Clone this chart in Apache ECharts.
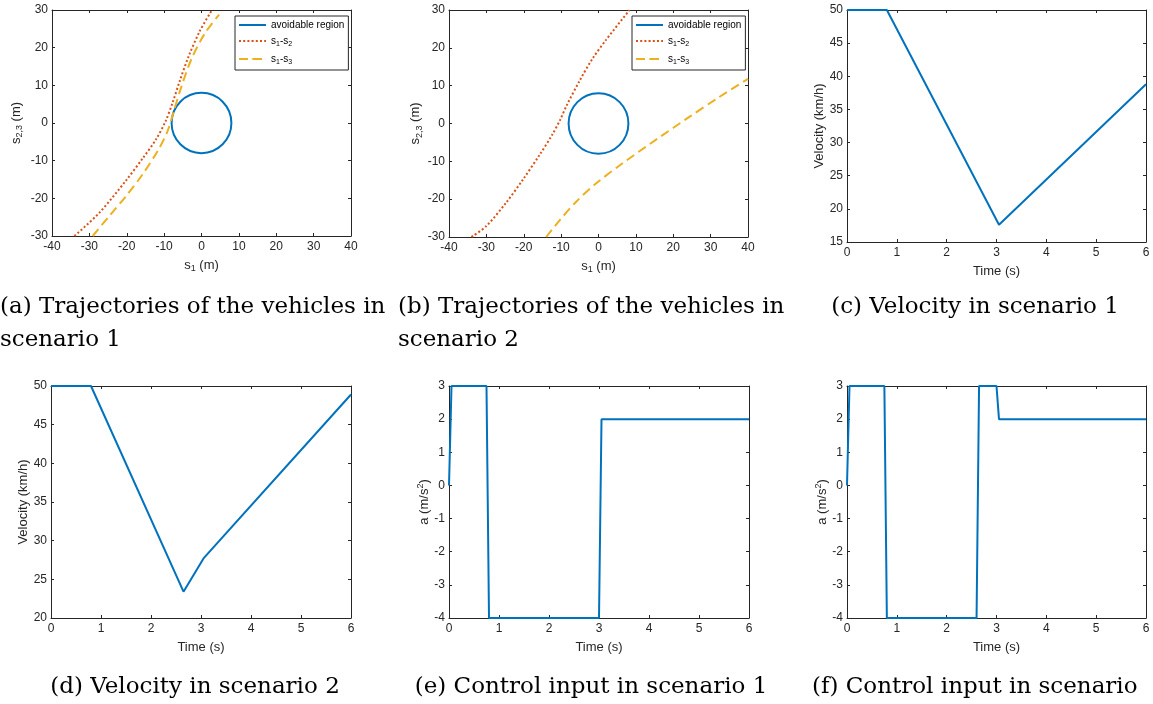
<!DOCTYPE html>
<html>
<head>
<meta charset="utf-8">
<script src="https://cdn.jsdelivr.net/npm/echarts@6/dist/echarts.min.js"></script>
<style>
html,body{margin:0;padding:0;background:#fff;}
#main{width:1153px;height:704px;}
</style>
</head>
<body>
<div id="main"></div>
<script>
// ---------------- DATA ----------------
const trajTicksX = [-40, 40, 10];
const trajTicksY = [-30, 30, 10];
const timeTicks = [0, 6, 1];
const vel1Ticks = [15, 50, 5];
const vel2Ticks = [20, 50, 5];
const accTicks = [-4, 3, 1];

// avoidable region: circle centre (x, y) and radius
const regionCircle = [[0, 0, 8]];

// scenario 1 trajectories [s1, s2/s3]
const sc1_s12 = [[-34,-30],[-27.3,-23.8],[-20.3,-15.4],[-15.6,-9.2],[-12.2,-4.4],[-9.6,0.5],[-7.7,5.5],[-5.8,11.2],[-3.4,17.8],[-0.5,24.3],[2.8,30]];
const sc1_s13 = [[-29.1,-30],[-24.6,-24.6],[-20.1,-19.3],[-15.6,-13.4],[-11.6,-7.2],[-9.1,-2.2],[-7.4,3.2],[-5.4,9.6],[-2.6,17.2],[0.9,23.8],[4.7,28.8]];

// scenario 2 trajectories
const sc2_s12 = [[-34,-30],[-30,-27.1],[-24.7,-20.9],[-20.2,-14.8],[-15.7,-8.2],[-12.4,-3.0],[-10.3,0.9],[-8.5,4.8],[-5.0,11.4],[-1.5,17.3],[2.1,22.2],[8.3,30]];
const sc2_s13 = [[-14,-30],[-10.4,-25.6],[-5.9,-20.6],[-0.6,-15.8],[6.6,-10.4],[15.5,-4.2],[24.4,1.8],[32,6.8],[40,11.8]];

// velocity [time (s), km/h]
const vel_sc1 = [[0,50],[0.8,50],[3.05,17.6],[6,38.8]];
const vel_sc2 = [[0,50],[0.8,50],[2.65,23.4],[3.05,27.7],[6,48.9]];

// control input [time (s), m/s^2]
const acc_sc1 = [[0,0],[0.05,3],[0.75,3],[0.8,-4],[3.0,-4],[3.05,2],[6,2]];
const acc_sc2 = [[0,0],[0.05,3],[0.75,3],[0.8,-4],[2.6,-4],[2.65,3],[3.0,3],[3.05,2],[6,2]];

const captions = [
  '(a) Trajectories of the vehicles in', 'scenario 1',
  '(b) Trajectories of the vehicles in', 'scenario 2',
  '(c) Velocity in scenario 1',
  '(d) Velocity in scenario 2',
  '(e) Control input in scenario 1',
  '(f) Control input in scenario'
];

// ---------------- STYLE ----------------
const BLUE = '#0072BD', RED = '#D95319', YEL = '#EDB120', AX = '#262626';
const SANS = '"Liberation Sans", Arial, sans-serif';
const SERIF = '"DejaVu Serif", serif';

const nameRich = {
  t: {fontSize: 13, fontFamily: SANS, color: AX, lineHeight: 16},
  sub: {fontSize: 9, fontFamily: SANS, color: AX, lineHeight: 8, verticalAlign: 'bottom'},
  sup: {fontSize: 9, fontFamily: SANS, color: AX, lineHeight: 8, verticalAlign: 'top'}
};

const grids = [
  {left: 52, top: 10, width: 299, height: 226},
  {left: 449, top: 10, width: 299, height: 227},
  {left: 847, top: 10, width: 299, height: 232},
  {left: 51, top: 386, width: 300, height: 232},
  {left: 449, top: 386, width: 300, height: 232},
  {left: 847, top: 386, width: 299, height: 232}
];

const xAxes = [], yAxes = [];
function addAxes(gi, xt, yt, xName, yName, xGap, yGap) {
  const line = {show: true, onZero: false, lineStyle: {color: AX, width: 1}};
  const tick = {show: true, inside: true, length: 3, lineStyle: {color: AX, width: 1}};
  const lab = {color: AX, fontSize: 12, fontFamily: SANS};
  xAxes.push({gridIndex: gi, type: 'value', position: 'bottom', min: xt[0], max: xt[1], interval: xt[2],
    axisLine: line, axisTick: tick, axisLabel: Object.assign({margin: 5}, lab), splitLine: {show: false},
    name: xName, nameLocation: 'middle', nameGap: xGap, nameTextStyle: {rich: nameRich}});
  xAxes.push({gridIndex: gi, type: 'value', position: 'top', min: xt[0], max: xt[1], interval: xt[2],
    axisLine: line, axisTick: tick, axisLabel: {show: false}, splitLine: {show: false}});
  yAxes.push({gridIndex: gi, type: 'value', position: 'left', min: yt[0], max: yt[1], interval: yt[2],
    axisLine: line, axisTick: tick, axisLabel: Object.assign({margin: 4}, lab), splitLine: {show: false},
    name: yName, nameLocation: 'middle', nameGap: yGap, nameTextStyle: {rich: nameRich}});
  yAxes.push({gridIndex: gi, type: 'value', position: 'right', min: yt[0], max: yt[1], interval: yt[2],
    axisLine: line, axisTick: tick, axisLabel: {show: false}, splitLine: {show: false}});
}
const sName = '{t|s}{sub|1}{t| (m)}';
const s23Name = '{t|s}{sub|2,3}{t| (m)}';
const tName = '{t|Time (s)}';
const vName = '{t|Velocity (km/h)}';
const aName = '{t|a (m/s}{sup|2}{t|)}';
addAxes(0, trajTicksX, trajTicksY, sName, s23Name, 21, 28);
addAxes(1, trajTicksX, trajTicksY, sName, s23Name, 21, 23);
addAxes(2, timeTicks, vel1Ticks, tName, vName, 21, 18);
addAxes(3, timeTicks, vel2Ticks, tName, vName, 21, 18);
addAxes(4, timeTicks, accTicks, tName, aName, 21, 17);
addAxes(5, timeTicks, accTicks, tName, aName, 21, 16);

function circleSeries(gi) {
  return {
    type: 'custom', name: 'avoidable region', xAxisIndex: gi * 2, yAxisIndex: gi * 2,
    coordinateSystem: 'cartesian2d', data: regionCircle, itemStyle: {color: BLUE},
    renderItem: function (params, api) {
      const c = api.coord([api.value(0), api.value(1)]);
      const s = api.size([api.value(2), api.value(2)]);
      return {type: 'ellipse', shape: {cx: c[0], cy: c[1], rx: s[0], ry: s[1]},
        style: {fill: 'none', stroke: BLUE, lineWidth: 2}};
    }
  };
}
function lineSeries(gi, name, data, color, type, smooth) {
  return {type: 'line', name: name, xAxisIndex: gi * 2, yAxisIndex: gi * 2, data: data,
    showSymbol: false, symbol: 'none', smooth: smooth ? 0.3 : false, clip: true,
    lineStyle: {color: color, width: 2, type: type || 'solid'}, itemStyle: {color: color}};
}
const DOT = [2, 2.2], DASH = [9, 5];
const series = [
  circleSeries(0),
  lineSeries(0, 's1-s2', sc1_s12, RED, DOT, true),
  lineSeries(0, 's1-s3', sc1_s13, YEL, DASH, true),
  circleSeries(1),
  lineSeries(1, 's1-s2', sc2_s12, RED, DOT, true),
  lineSeries(1, 's1-s3', sc2_s13, YEL, DASH, true),
  lineSeries(2, 'v1', vel_sc1, BLUE),
  lineSeries(3, 'v2', vel_sc2, BLUE),
  lineSeries(4, 'a1', acc_sc1, BLUE),
  lineSeries(5, 'a2', acc_sc2, BLUE)
];

const legendRich = {
  t: {fontSize: 10, fontFamily: SANS, color: '#000', lineHeight: 14},
  sub: {fontSize: 7, fontFamily: SANS, color: '#000', lineHeight: 7, verticalAlign: 'bottom'}
};
function legendFmt(n) {
  if (n === 's1-s2') return '{t|s}{sub|1}{t|-s}{sub|2}';
  if (n === 's1-s3') return '{t|s}{sub|1}{t|-s}{sub|3}';
  return '{t|' + n + '}';
}
function makeLegend(left) {
  return {
    left: left, top: 16, orient: 'vertical', itemWidth: 27, itemHeight: 2, itemGap: 6,
    padding: [4, 4, 4, 3], borderColor: AX, borderWidth: 1, backgroundColor: '#fff',
    selectedMode: false, formatter: legendFmt, textStyle: {rich: legendRich, fontSize: 10},
    data: [{name: 'avoidable region', icon: 'rect', itemStyle: {color: BLUE}}, 's1-s2', 's1-s3']
  };
}

function cap(text, x, y, align) {
  return {type: 'text', x: x, y: y, silent: true,
    style: {text: text, fontFamily: SERIF, fontSize: 23, fill: '#000', align: align, verticalAlign: 'bottom'}};
}
const CB = 5; // descent offset
const graphic = [
  cap(captions[0], 0, 314 + CB, 'left'), cap(captions[1], 0, 347 + CB, 'left'),
  cap(captions[2], 398, 314 + CB, 'left'), cap(captions[3], 398, 347 + CB, 'left'),
  cap(captions[4], 975, 314 + CB, 'center'),
  cap(captions[5], 195, 694 + CB, 'center'),
  cap(captions[6], 591, 694 + CB, 'center'),
  cap(captions[7], 812, 694 + CB, 'left')
];

const chart = echarts.init(document.getElementById('main'), null, {renderer: 'canvas'});
chart.setOption({
  animation: false,
  backgroundColor: '#fff',
  grid: grids,
  xAxis: xAxes,
  yAxis: yAxes,
  legend: [makeLegend(235), makeLegend(632)],
  series: series,
  graphic: graphic
});
</script>
</body>
</html>
